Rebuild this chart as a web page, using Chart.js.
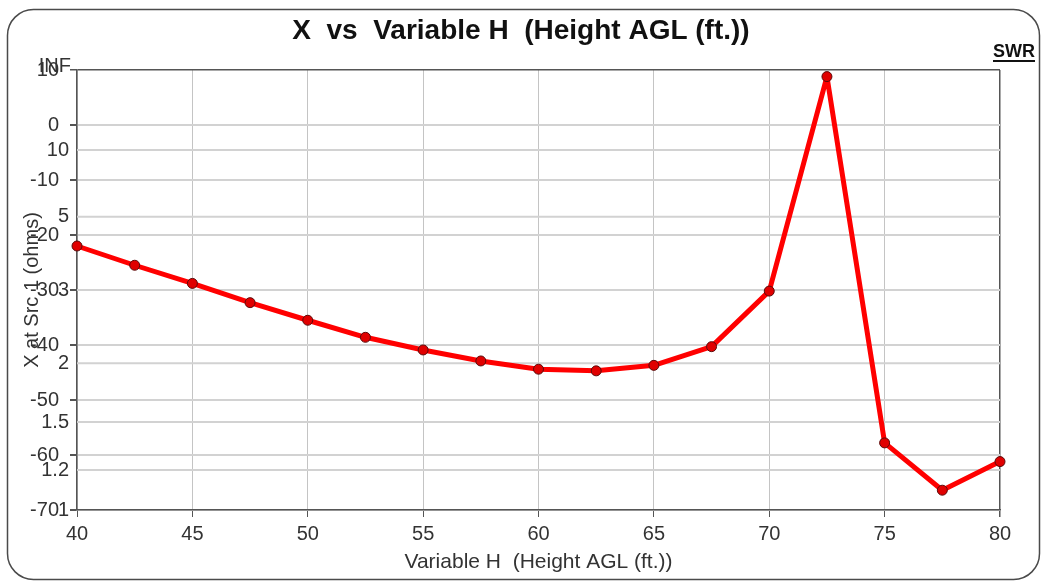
<!DOCTYPE html>
<html>
<head>
<meta charset="utf-8">
<script src="https://cdn.jsdelivr.net/npm/chart.js@4/dist/chart.umd.min.js"></script>
<style>
  html, body { margin: 0; padding: 0; background: #fff; }
  #wrap { width: 1042px; height: 582px; position: relative; }
</style>
</head>
<body>
<div id="wrap"><canvas id="chart"></canvas></div>
<script>
(function () {
    'use strict';

    // Variable H (ft.)
    var heights = [40, 42.5, 45, 47.5, 50, 52.5, 55, 57.5, 60, 62.5, 65, 67.5, 70, 72.5, 75, 77.5, 80];
    // X at Src 1 (ohms)
    var reactance = [-22.0, -25.5, -28.8, -32.3, -35.5, -38.6, -40.9, -42.9, -44.4, -44.7, -43.7, -40.3, -30.2, 8.8, -57.8, -66.4, -61.2];

    var xTicks = [40, 45, 50, 55, 60, 65, 70, 75, 80];
    var yTicks = [10, 0, -10, -20, -30, -40, -50, -60, -70];
    // SWR scale is linear in reflection coefficient
    var swrTicks = [1, 1.2, 1.5, 2, 3, 5, 10];
    var swrLabels = ['1', '1.2', '1.5', '2', '3', '5', '10'];

    var FONT = '"Liberation Sans", Arial, sans-serif';
    var axisDark = '#555555';

    function rho(s) { return (s - 1) / (s + 1); }

    var swrPlugin = {
        id: 'swrAxis',
        beforeDraw: function (chart) {
            var ctx = chart.ctx;
            ctx.save();
            ctx.strokeStyle = '#4a4a4a';
            ctx.lineWidth = 1.5;
            ctx.beginPath();
            ctx.roundRect(7.5, 9.5, 1032, 570, 26);
            ctx.stroke();
            ctx.restore();
        },
        beforeDatasetsDraw: function (chart) {
            var ctx = chart.ctx;
            var s = chart.scales.y2;
            var area = chart.chartArea;
            ctx.save();
            ctx.strokeStyle = '#d2d2d2';
            ctx.lineWidth = 2;
            swrTicks.forEach(function (v) {
                var y = s.getPixelForValue(rho(v));
                if (y >= area.bottom - 1 || y <= area.top + 1) return;
                ctx.beginPath();
                ctx.moveTo(area.left, y);
                ctx.lineTo(area.right, y);
                ctx.stroke();
            });
            ctx.restore();
        },
        afterDraw: function (chart) {
            var ctx = chart.ctx;
            var s = chart.scales.y2;
            ctx.save();
            ctx.font = '20px ' + FONT;
            ctx.fillStyle = '#333333';
            ctx.textAlign = 'right';
            ctx.textBaseline = 'middle';
            swrTicks.forEach(function (v, i) {
                ctx.fillText(swrLabels[i], 69, s.getPixelForValue(rho(v)));
            });
            ctx.fillText('INF', 71, s.getPixelForValue(1) - 4);

            ctx.font = 'bold 18px ' + FONT;
            ctx.fillStyle = '#111111';
            ctx.textBaseline = 'alphabetic';
            ctx.fillText('SWR', 1035, 57);
            var w = ctx.measureText('SWR').width;
            ctx.fillRect(1035 - w, 60, w, 2);
            ctx.restore();
        }
    };

    new Chart(document.getElementById('chart'), {
        type: 'line',
        data: {
            datasets: [{
                label: 'X',
                data: heights.map(function (h, i) { return { x: h, y: reactance[i] }; }),
                borderColor: '#ff0000',
                borderWidth: 5,
                borderJoinStyle: 'round',
                pointRadius: 5,
                pointBackgroundColor: '#e00000',
                pointBorderColor: '#5a0a0a',
                pointBorderWidth: 1,
                tension: 0,
                clip: false,
                yAxisID: 'y'
            }]
        },
        options: {
            responsive: true,
            maintainAspectRatio: false,
            animation: false,
            layout: { padding: 0 },
            plugins: {
                legend: { display: false },
                tooltip: { enabled: false },
                title: {
                    display: true,
                    text: 'X  vs  Variable H  (Height AGL (ft.))',
                    color: '#111111',
                    font: { family: FONT, size: 28, weight: 'bold', lineHeight: 1.2 },
                    padding: { top: 14, bottom: 22.4 }
                }
            },
            scales: {
                x: {
                    type: 'linear',
                    min: 40,
                    max: 80,
                    afterBuildTicks: function (scale) {
                        scale.ticks = xTicks.map(function (v) { return { value: v }; });
                    },
                    afterFit: function (scale) { scale.height = 72; },
                    ticks: {
                        color: '#333333',
                        font: { family: FONT, size: 20 },
                        padding: 5,
                        maxRotation: 0
                    },
                    grid: {
                        color: function (c) { return c.tick && c.tick.value === 80 ? axisDark : '#c4c4c4'; },
                        lineWidth: function (c) { return c.tick && c.tick.value === 80 ? 1.5 : 1; },
                        tickColor: axisDark,
                        tickLength: 7
                    },
                    border: { color: axisDark, width: 1.5 },
                    title: {
                        display: true,
                        text: 'Variable H  (Height AGL (ft.))',
                        color: '#333333',
                        font: { family: FONT, size: 21 },
                        padding: { top: 0, bottom: 7 }
                    }
                },
                y: {
                    position: 'left',
                    min: -70,
                    max: 10,
                    afterBuildTicks: function (scale) {
                        scale.ticks = yTicks.map(function (v) { return { value: v }; });
                    },
                    afterFit: function (scale) { scale.width = 77; },
                    ticks: {
                        color: '#333333',
                        font: { family: FONT, size: 20 },
                        padding: 11
                    },
                    grid: {
                        color: function (c) { return c.tick && c.tick.value === 10 ? axisDark : '#d2d2d2'; },
                        lineWidth: function (c) { return c.tick && c.tick.value === 10 ? 1.5 : 2; },
                        tickColor: axisDark,
                        tickLength: 7
                    },
                    border: { color: axisDark, width: 1.5 },
                    title: {
                        display: true,
                        text: 'X at Src 1 (ohms)',
                        color: '#333333',
                        font: { family: FONT, size: 20 },
                        padding: { top: 20, bottom: 0 }
                    }
                },
                // reflection-coefficient scale behind the SWR labels; only reserves the right margin
                y2: {
                    position: 'right',
                    min: 0,
                    max: 1,
                    afterFit: function (scale) { scale.width = 42; },
                    ticks: { display: false },
                    grid: { drawOnChartArea: false, drawTicks: false },
                    border: { display: false }
                }
            }
        },
        plugins: [swrPlugin]
    });
})();
</script>
</body>
</html>
